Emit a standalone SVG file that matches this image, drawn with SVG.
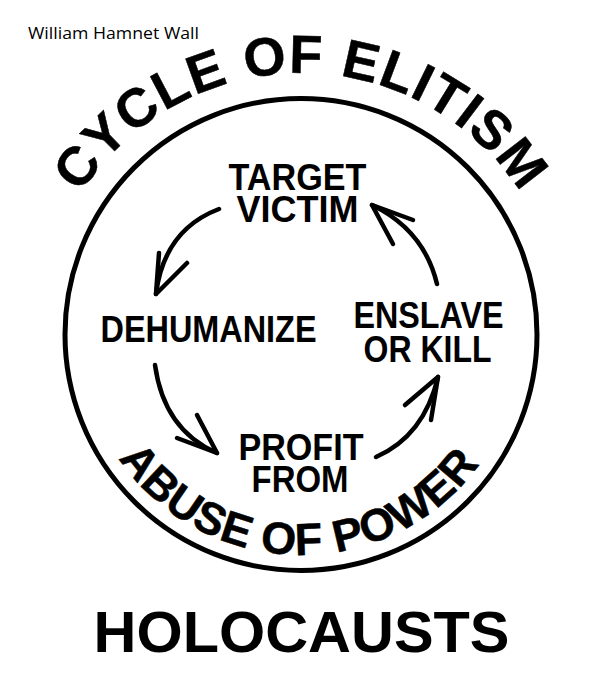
<svg xmlns="http://www.w3.org/2000/svg" xmlns:xlink="http://www.w3.org/1999/xlink" width="600" height="684" viewBox="0 0 600 684">
<style>
  .arc { font-family: "Liberation Sans", Arial, sans-serif; font-weight: bold; fill: #000; stroke: #000; stroke-width: 0.5; stroke-linejoin: round; }
  .lbl { font-family: "Liberation Sans", Arial, sans-serif; font-weight: bold; font-size: 36px; fill: #000; text-anchor: middle; }
  .conn { fill: none; stroke: #000; stroke-width: 4.5; stroke-linecap: round; stroke-linejoin: round; }
</style>
<defs>
  <path id="topArc" d="M 39.5 334.5 A 261.5 261.5 0 0 1 562.5 334.5"/>
  <path id="botArc" d="M 80.5 334.5 A 220.5 220.5 0 0 0 521.5 334.5"/>
</defs>
<rect width="600" height="684" fill="#fff"/>
<text x="28" y="39" font-family="'Open Sans', 'Noto Sans', sans-serif" font-size="15.5" textLength="171" lengthAdjust="spacingAndGlyphs" fill="#000">William Hamnet Wall</text>
<g id="ring">
  <circle cx="301" cy="334.5" r="236" fill="none" stroke="#000" stroke-width="5"/>
</g>
<g id="title">
  <text class="arc" font-size="54" letter-spacing="1.4"><textPath xlink:href="#topArc" href="#topArc" startOffset="50%" text-anchor="middle">CYCLE OF ELITISM</textPath></text>
</g>
<g id="abuse">
  <text class="arc" font-size="45" letter-spacing="0.6"><textPath xlink:href="#botArc" href="#botArc" startOffset="343" text-anchor="middle">ABUSE OF POWER</textPath></text>
</g>
<g id="target">
  <text class="lbl"><tspan x="297.5" y="190" textLength="138" lengthAdjust="spacingAndGlyphs">TARGET</tspan><tspan x="297.5" y="222" textLength="122" lengthAdjust="spacingAndGlyphs">VICTIM</tspan></text>
</g>
<g id="dehumanize">
  <text class="lbl" x="208.5" y="342" textLength="216" lengthAdjust="spacingAndGlyphs">DEHUMANIZE</text>
</g>
<g id="profit">
  <text class="lbl"><tspan x="301" y="460" textLength="125" lengthAdjust="spacingAndGlyphs">PROFIT</tspan><tspan x="300" y="492" textLength="97" lengthAdjust="spacingAndGlyphs">FROM</tspan></text>
</g>
<g id="enslave">
  <text class="lbl"><tspan x="428.5" y="328" textLength="150" lengthAdjust="spacingAndGlyphs">ENSLAVE</tspan><tspan x="427.5" y="362" textLength="128" lengthAdjust="spacingAndGlyphs">OR KILL</tspan></text>
</g>
<g id="holocausts">
  <text x="301.5" y="652" font-family="'Liberation Sans', Arial, sans-serif" font-weight="bold" font-size="58" text-anchor="middle" textLength="416" lengthAdjust="spacingAndGlyphs" fill="#000">HOLOCAUSTS</text>
</g>
<g id="connectors">
  <path class="conn" d="M 219 209 Q 164 230 156 294"/>
  <path class="conn" d="M 159 253 L 156 294 L 187 263"/>
  <path class="conn" d="M 437 284 Q 424 230 372 205"/>
  <path class="conn" d="M 413 220 L 372 205 L 393 244"/>
  <path class="conn" d="M 155 365 Q 164 430 217 453"/>
  <path class="conn" d="M 177 438 L 217 453 L 197 415"/>
  <path class="conn" d="M 376 457 Q 424 436 438 377"/>
  <path class="conn" d="M 405 405 L 438 377 L 431 420"/>
</g>
</svg>
